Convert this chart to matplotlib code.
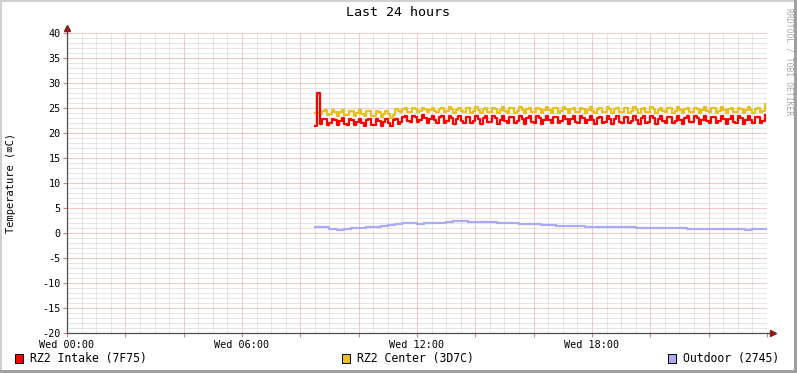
import matplotlib
matplotlib.use("Agg")
import matplotlib.pyplot as plt
from matplotlib.patches import Rectangle
from matplotlib.ticker import MultipleLocator, FixedLocator, FuncFormatter
import numpy as np

# samples every 5 minutes, starting Wed 08:30
start_hour = 8.5
step_hours = 5 / 60.0

intake = [
    21.5, 28.0, 21.8, 22.8, 22.9, 21.7, 22.0, 22.9, 22.6, 21.6, 22.5, 23.0,
    21.9, 21.7, 22.8, 22.7, 21.6, 22.3, 22.9, 22.0, 21.5, 22.7, 22.8, 21.7,
    21.6, 22.8, 22.5, 21.5, 22.2, 22.9, 22.1, 21.4, 22.6, 22.9, 21.9, 22.3,
    23.2, 23.5, 22.4, 22.3, 23.4, 23.3, 22.2, 22.6, 23.6, 23.1, 22.1, 22.9,
    23.5, 22.6, 22.0, 23.2, 23.4, 22.1, 22.4, 23.5, 23.0, 21.9, 22.8, 23.4,
    22.4, 22.1, 23.3, 23.2, 22.0, 22.5, 23.5, 22.8, 21.9, 23.0, 23.4, 22.2,
    22.2, 23.4, 23.0, 21.9, 22.7, 23.5, 22.5, 22.0, 23.2, 23.3, 22.0, 22.4,
    23.5, 22.8, 21.9, 23.0, 23.4, 22.2, 22.1, 23.4, 23.1, 21.9, 22.6, 23.5,
    22.6, 22.0, 23.2, 23.3, 22.0, 22.4, 23.5, 22.9, 21.9, 22.9, 23.4, 22.3,
    22.1, 23.4, 23.1, 22.0, 22.6, 23.5, 22.6, 21.9, 23.1, 23.3, 22.1, 22.3,
    23.5, 22.9, 21.9, 22.9, 23.4, 22.3, 22.0, 23.3, 23.2, 22.0, 22.5, 23.5,
    22.7, 21.9, 23.1, 23.4, 22.1, 22.3, 23.5, 23.0, 21.9, 22.8, 23.4, 22.4,
    22.0, 23.3, 23.2, 22.0, 22.5, 23.5, 22.7, 21.9, 23.0, 23.4, 22.2, 22.2,
    23.4, 23.1, 21.9, 22.7, 23.5, 22.5, 22.0, 23.2, 23.3, 22.0, 22.4, 23.5,
    22.8, 21.9, 22.9, 23.4, 22.3, 22.1, 23.4, 23.1, 21.9, 22.6, 23.5, 22.6,
    22.0, 23.2, 23.3, 22.0, 22.4, 23.6,
]

center = [
    24.0, 24.0, 23.9, 24.5, 24.6, 23.6, 23.8, 24.6, 24.3, 23.5, 24.3, 24.6,
    23.7, 23.6, 24.5, 24.4, 23.5, 24.0, 24.6, 23.8, 23.4, 24.4, 24.5, 23.5,
    23.4, 24.5, 24.2, 23.3, 23.8, 24.5, 23.9, 23.0, 23.6, 24.8, 24.5, 24.3,
    24.9, 25.0, 24.3, 24.2, 25.0, 24.9, 24.2, 24.5, 25.1, 24.8, 24.2, 24.7,
    25.1, 24.5, 24.2, 24.9, 25.1, 24.2, 24.4, 25.2, 24.8, 24.1, 24.7, 25.1,
    24.4, 24.2, 25.0, 25.0, 24.1, 24.5, 25.2, 24.7, 24.1, 24.9, 25.1, 24.3,
    24.2, 25.1, 24.9, 24.1, 24.6, 25.2, 24.5, 24.1, 25.0, 25.0, 24.1, 24.4,
    25.2, 24.7, 24.1, 24.9, 25.1, 24.3, 24.2, 25.1, 24.9, 24.1, 24.6, 25.2,
    24.6, 24.1, 25.0, 25.0, 24.1, 24.4, 25.2, 24.8, 24.1, 24.8, 25.1, 24.3,
    24.2, 25.1, 24.9, 24.1, 24.6, 25.3, 24.5, 24.1, 24.9, 25.0, 24.2, 24.3,
    25.2, 24.8, 24.1, 24.8, 25.1, 24.3, 24.2, 25.1, 25.0, 24.1, 24.5, 25.2,
    24.6, 24.1, 24.9, 25.1, 24.2, 24.3, 25.2, 24.9, 24.1, 24.7, 25.1, 24.4,
    24.2, 25.0, 25.0, 24.1, 24.5, 25.2, 24.6, 24.1, 24.9, 25.1, 24.2, 24.3,
    25.1, 24.9, 24.1, 24.7, 25.2, 24.5, 24.2, 25.0, 25.0, 24.1, 24.4, 25.2,
    24.7, 24.1, 24.8, 25.1, 24.3, 24.2, 25.1, 24.9, 24.1, 24.6, 25.2, 24.6,
    24.1, 24.9, 25.1, 24.2, 24.4, 25.8,
]

# outdoor sampled every 15 minutes from 08:30
outdoor_step = 0.25
outdoor = [
    1.3, 1.2, 0.9, 0.7, 0.8, 1.0, 1.1, 1.2, 1.3, 1.5, 1.7, 1.8,
    2.0, 2.0, 1.9, 2.0, 2.1, 2.0, 2.3, 2.4, 2.4, 2.3, 2.3, 2.2,
    2.2, 2.1, 2.1, 2.0, 1.9, 1.9, 1.8, 1.7, 1.7, 1.5, 1.5, 1.4,
    1.4, 1.3, 1.3, 1.2, 1.3, 1.2, 1.2, 1.2, 1.1, 1.1, 1.0, 1.1,
    1.0, 1.0, 1.0, 0.9, 0.9, 0.9, 0.9, 0.8, 0.9, 0.8, 0.8, 0.7,
    0.8, 0.8, 0.8,
]

labels = ["RZ2 Intake (7F75)", "RZ2 Center (3D7C)", "Outdoor (2745)"]
colors = ["#FF0000", "#E8C020", "#AAAAF8"]
tick_names = ["Wed 00:00", "Wed 06:00", "Wed 12:00", "Wed 18:00"]

W, H = 797, 373
mono = ["DejaVu Sans Mono", "DejaVu Sans"]
plt.rcParams["font.family"] = mono

fig = plt.figure(figsize=(W / 100, H / 100), dpi=100, facecolor="white")
ax = fig.add_axes([67 / W, 40 / H, 700 / W, 300 / H])
ax.set_facecolor("white")

t_fast = start_hour + step_hours * np.arange(len(intake))
t_out = start_hour + outdoor_step * np.arange(len(outdoor))

ax.plot(t_out, outdoor, drawstyle="steps-post", color=colors[2], lw=1.6, zorder=3)
ax.plot(t_fast, center, drawstyle="steps-post", color=colors[1], lw=1.6, zorder=4)
ax.plot(t_fast, intake, drawstyle="steps-post", color=colors[0], lw=1.6, zorder=5)

ax.set_xlim(0, 24)
ax.set_ylim(-20, 40)

# grid: red every 2 h / 5 deg, grey every 30 min / 1 deg
xminor = [v for v in np.arange(0, 24.01, 0.5) if v % 2 != 0]
yminor = [v for v in range(-20, 41) if v % 5 != 0]
ax.xaxis.set_major_locator(MultipleLocator(2))
ax.xaxis.set_minor_locator(FixedLocator(xminor))
ax.yaxis.set_major_locator(MultipleLocator(5))
ax.yaxis.set_minor_locator(FixedLocator(yminor))

def xfmt(v, pos):
    h = int(round(v))
    if h % 6 == 0 and h < 24:
        return tick_names[h // 6]
    return ""

ax.xaxis.set_major_formatter(FuncFormatter(xfmt))
ax.yaxis.set_major_formatter(FuncFormatter(lambda v, p: "%d" % v))

dots = (0, (1, 1))
ax.grid(which="minor", color="#CFCFCF", linestyle=dots, linewidth=0.72)
ax.grid(which="major", color="#E49494", linestyle=dots, linewidth=0.72)
ax.set_axisbelow(True)

ax.tick_params(which="major", axis="both", length=3, width=0.8, color="#D08080",
               labelsize=7.3, labelcolor="black", pad=1.5)
ax.tick_params(which="minor", axis="both", length=0)
ax.tick_params(axis="x", direction="out", pad=2)

for s in ["top", "right"]:
    ax.spines[s].set_visible(False)
for s in ["left", "bottom"]:
    ax.spines[s].set_color("#505050")
    ax.spines[s].set_linewidth(0.9)

# axis arrows like rrdtool
ax.plot([1.0, 1.008], [0, 0], transform=ax.transAxes, color="#505050", lw=0.9, clip_on=False)
ax.plot([0, 0], [1.0, 1.016], transform=ax.transAxes, color="#505050", lw=0.9, clip_on=False)
ax.plot([1.008], [0], transform=ax.transAxes, marker=">", color="#8B1A1A", ms=4, clip_on=False)
ax.plot([0], [1.016], transform=ax.transAxes, marker="^", color="#8B1A1A", ms=4, clip_on=False)

fig.text(398 / W, 1 - 13 / H, "Last 24 hours", ha="center", va="center", fontsize=9.6)
fig.text(11 / W, 1 - 183 / H, "Temperature (\u2327C)", rotation=90, ha="center", va="center",
         fontsize=7.5)
fig.text(789 / W, 1 - 8 / H, "RRDTOOL / TOBI OETIKER", rotation=270, ha="center", va="top",
         fontsize=5.8, color="#A8A8A8")

# legend
leg_x = [15, 342, 668]
for x0, lab, col in zip(leg_x, labels, colors):
    fig.add_artist(Rectangle((x0 / W, 1 - 363 / H), 8 / W, 9 / H, transform=fig.transFigure,
                             facecolor=col, edgecolor="black", linewidth=0.7))
    fig.text((x0 + 15) / W, 1 - 358.5 / H, lab, ha="left", va="center", fontsize=8.3)

# 3d frame
fig.add_artist(Rectangle((0, 1 - 2 / H), 1, 2 / H, transform=fig.transFigure,
                         facecolor="#D0D0D0", edgecolor="none"))
fig.add_artist(Rectangle((0, 0), 2 / W, 1, transform=fig.transFigure,
                         facecolor="#D0D0D0", edgecolor="none"))
fig.add_artist(Rectangle((1 - 3 / W, 0), 3 / W, 1, transform=fig.transFigure,
                         facecolor="#A0A0A0", edgecolor="none"))
fig.add_artist(Rectangle((0, 0), 1, 3 / H, transform=fig.transFigure,
                         facecolor="#A0A0A0", edgecolor="none"))

fig.savefig("out.png", dpi=100, facecolor="white")
